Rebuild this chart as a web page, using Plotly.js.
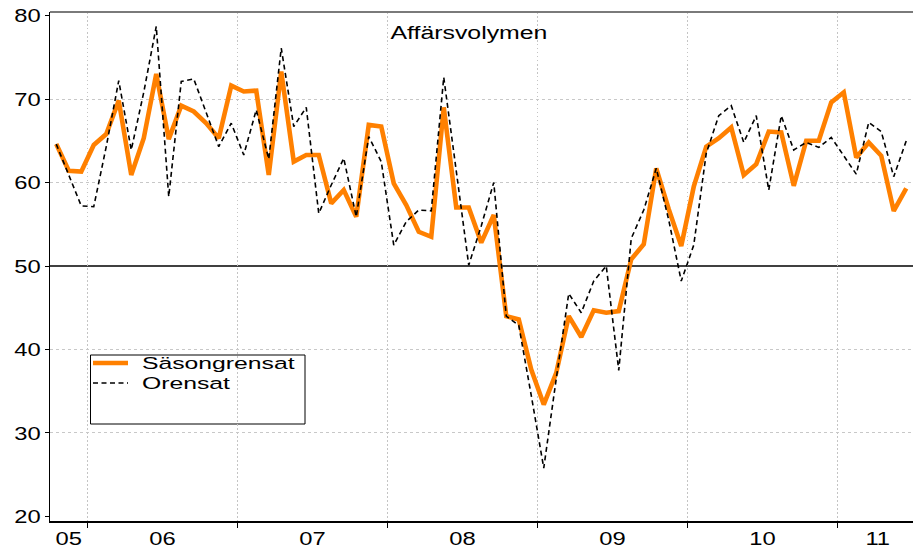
<!DOCTYPE html>
<html>
<head>
<meta charset="utf-8">
<script src="https://cdn.plot.ly/plotly-3.0.1.min.js"></script>
<style>
  html, body { margin: 0; padding: 0; background: #fff; }
  #chart { width: 913px; height: 549px; }
</style>
</head>
<body>
<div id="chart"></div>
<script>
// ---- data ----
const months = [
  "2005-10","2005-11","2005-12",
  "2006-01","2006-02","2006-03","2006-04","2006-05","2006-06","2006-07","2006-08","2006-09","2006-10","2006-11","2006-12",
  "2007-01","2007-02","2007-03","2007-04","2007-05","2007-06","2007-07","2007-08","2007-09","2007-10","2007-11","2007-12",
  "2008-01","2008-02","2008-03","2008-04","2008-05","2008-06","2008-07","2008-08","2008-09","2008-10","2008-11","2008-12",
  "2009-01","2009-02","2009-03","2009-04","2009-05","2009-06","2009-07","2009-08","2009-09","2009-10","2009-11","2009-12",
  "2010-01","2010-02","2010-03","2010-04","2010-05","2010-06","2010-07","2010-08","2010-09","2010-10","2010-11","2010-12",
  "2011-01","2011-02","2011-03","2011-04","2011-05","2011-06"
];
const sasongrensat = [
  64.6, 61.4, 61.3,
  64.5, 65.8, 69.8, 60.9, 65.3, 73.0, 65.2, 69.2, 68.5, 67.1, 65.3, 71.6,
  70.9, 71.0, 60.9, 73.3, 62.5, 63.3, 63.3, 57.5, 59.1, 55.9, 66.9, 66.7,
  59.9, 57.3, 54.1, 53.5, 69.0, 57.0, 57.0, 52.8, 56.1, 44.0, 43.6, 37.6,
  33.4, 37.2, 44.0, 41.5, 44.7, 44.4, 44.6, 50.8, 52.6, 61.7, 56.8, 52.4,
  59.5, 64.3, 65.3, 66.6, 60.9, 62.2, 66.1, 66.0, 59.6, 65.0, 65.0, 69.6,
  70.8, 63.0, 64.8, 63.2, 56.6, 59.3
];
const orensat = [
  64.6, 61.0, 57.2,
  57.1, 64.3, 72.2, 63.9, 70.8, 78.7, 58.3, 72.1, 72.4, 68.3, 64.3, 67.1,
  63.3, 68.7, 62.8, 76.1, 66.7, 69.0, 56.3, 59.7, 62.9, 55.9, 65.5, 62.5,
  52.5, 55.3, 56.7, 56.6, 72.6, 61.4, 50.1, 54.8, 60.0, 44.0, 42.9, 34.5,
  25.8, 36.5, 46.7, 44.4, 48.2, 50.0, 37.5, 53.3, 56.7, 61.7, 55.5, 48.2,
  52.5, 63.5, 68.0, 69.2, 64.8, 68.0, 59.1, 68.0, 63.9, 64.8, 64.2, 65.4,
  63.2, 61.0, 67.2, 66.1, 60.7, 65.0
];
const yearLabels = ["05","06","07","08","09","10","11"];
const yearLabelPos = [2005.875, 2006.5, 2007.5, 2008.5, 2009.5, 2010.5, 2011.268];
const yearBoundaries = [2006, 2007, 2008, 2009, 2010, 2011];
const yTicks = [20, 30, 40, 50, 60, 70, 80];
const yGrid = [30, 40, 60, 70];
const seriesNames = ["Säsongrensat", "Orensat"];
const chartTitle = "Affärsvolymen";

// ---- helpers ----
const toX = s => { const [y, m] = s.split("-").map(Number); return y + (m - 0.5) / 12; };
const xs = months.map(toX);

const W = 913, H = 549, ML = 50, MR = 0, MT = 12, MB = 28;
const pw = W - ML - MR, ph = H - MT - MB;
const px2paperX = p => (p - ML) / pw;
const px2paperY = p => 1 - (p - MT) / ph;

const FONT = "Liberation Sans, Arial, Helvetica, sans-serif";

const traces = [
  {
    x: xs, y: sasongrensat, name: seriesNames[0], type: "scatter", mode: "lines",
    line: { color: "#ff8000", width: 4.6 }
  },
  {
    x: xs, y: orensat, name: seriesNames[1], type: "scatter", mode: "lines",
    line: { color: "#000000", width: 1.6, dash: "5px,3.5px" }
  }
];

const layout = {
  width: W, height: H,
  margin: { l: ML, r: MR, t: MT, b: MB, pad: 0 },
  paper_bgcolor: "#ffffff", plot_bgcolor: "#ffffff",
  font: { family: FONT, color: "#000" },
  title: {
    text: chartTitle, font: { family: FONT, size: 18, color: "#000" },
    x: 469 / W, xanchor: "center", xref: "container",
    y: 1 - 33 / H, yanchor: "middle", yref: "container"
  },
  showlegend: true,
  legend: {
    x: px2paperX(91), y: px2paperY(354), xanchor: "left", yanchor: "top",
    bgcolor: "rgba(0,0,0,0)", borderwidth: 0,
    font: { family: FONT, size: 16.5, color: "#000" },
    itemwidth: 30, tracegroupgap: 0
  },
  xaxis: {
    range: [2005.75, 2005.75 + pw / 150],
    tickmode: "array", tickvals: yearLabelPos, ticktext: yearLabels,
    ticks: "", showgrid: false, zeroline: false,
    showline: true, linecolor: "#000", linewidth: 1.5,
    tickfont: { family: FONT, size: 19, color: "#000" },
    minor: {
      tickmode: "array", tickvals: yearBoundaries,
      ticks: "outside", ticklen: 5, tickwidth: 1, tickcolor: "#000",
      showgrid: true, gridcolor: "#c4c4c4", griddash: "1.5px,2.5px", gridwidth: 1
    },
    fixedrange: true
  },
  yaxis: {
    range: [19.46, 80.42],
    tickmode: "array", tickvals: yTicks,
    ticks: "outside", ticklen: 4, tickwidth: 1, tickcolor: "#000",
    showgrid: false, zeroline: false,
    showline: true, linecolor: "#000", linewidth: 1.5,
    tickfont: { family: FONT, size: 19, color: "#000" },
    minor: {
      tickmode: "array", tickvals: yGrid, ticks: "",
      showgrid: true, gridcolor: "#c8c8c8", griddash: "3px,3px", gridwidth: 1
    },
    fixedrange: true
  },
  shapes: [
    { type: "line", xref: "paper", yref: "y", x0: 0, x1: 1, y0: 50, y1: 50,
      line: { color: "#000", width: 1.3 }, layer: "below" },
    { type: "line", xref: "paper", yref: "paper", x0: 0, x1: 1, y0: 1, y1: 1,
      line: { color: "#7a7a7a", width: 2 }, layer: "above" },
    { type: "rect", xref: "paper", yref: "paper",
      x0: px2paperX(90.5), x1: px2paperX(305), y0: px2paperY(424), y1: px2paperY(355),
      line: { color: "#000", width: 1 }, fillcolor: "rgba(255,255,255,0)", layer: "below" }
  ]
};

function stretchText(el, s) {
  const bb = el.getBBox();
  const anchor = el.getAttribute("text-anchor") || "start";
  const ax = anchor === "middle" ? bb.x + bb.width / 2 : anchor === "end" ? bb.x + bb.width : bb.x;
  const t = el.getAttribute("transform") || "";
  el.setAttribute("transform", t + " translate(" + ax + ",0) scale(" + s + ",1) translate(" + (-ax) + ",0)");
}

function parseTranslate(str) {
  const m = /translate\(\s*([-\d.e]+)[ ,]+([-\d.e]+)\s*\)/.exec(str || "");
  return m ? [parseFloat(m[1]), parseFloat(m[2])] : [0, 0];
}

Plotly.newPlot("chart", traces, layout, { staticPlot: true, displayModeBar: false }).then(gd => {
  const root = gd.getBoundingClientRect();
  // legend layout like the reference: sample 93..128, text from 142, rows at 363 / 383
  gd.querySelectorAll(".legend [clip-path]").forEach(e => e.removeAttribute("clip-path"));
  const items = gd.querySelectorAll(".legend .traces");
  items.forEach((g, i) => {
    g.querySelectorAll("path.js-line").forEach(p => p.setAttribute("d", "M0,0h35"));
    const txt = g.querySelector(".legendtext");
    if (txt) txt.setAttribute("x", 49);
    const p = g.querySelector("path.js-line");
    if (!p) return;
    const r = p.getBoundingClientRect();
    const [tx, ty] = parseTranslate(g.getAttribute("transform"));
    const wantX = 93, wantY = 363 + i * 20;
    const curX = r.left - root.left, curY = r.top - root.top + r.height / 2;
    g.setAttribute("transform", "translate(" + (tx + wantX - curX) + "," + (ty + wantY - curY) + ")");
  });
  gd.querySelectorAll(".xtick text, .ytick text").forEach(el => stretchText(el, 1.25));
  gd.querySelectorAll(".legendtext").forEach(el => stretchText(el, 1.5));
  gd.querySelectorAll(".gtitle").forEach(el => stretchText(el, 1.38));
});
</script>
</body>
</html>
